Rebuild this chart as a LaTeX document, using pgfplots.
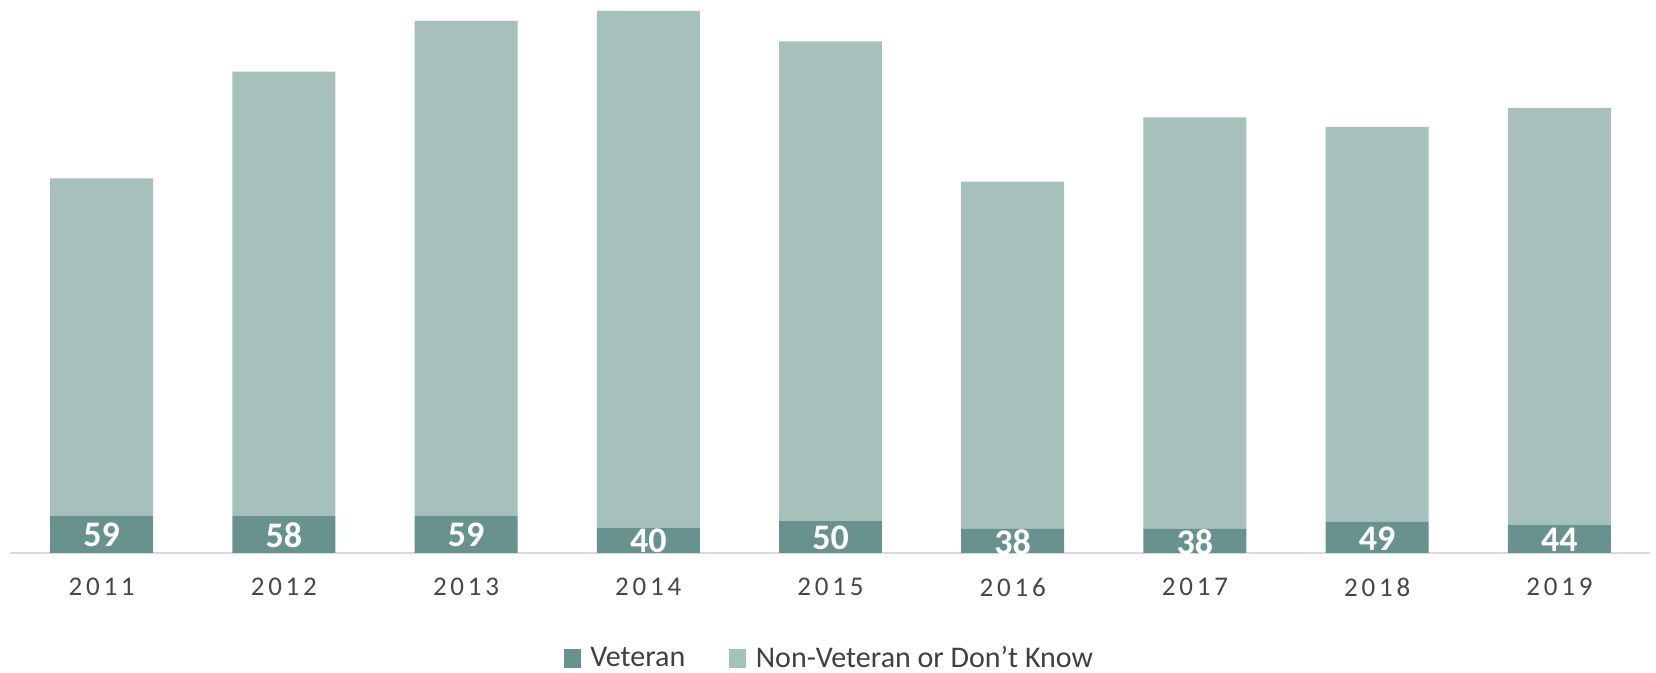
\documentclass[border=0pt]{standalone}
\usepackage{pgfplots}
\pgfplotsset{compat=1.18}
\usepackage{fontspec}
\setmainfont{Carlito}
\definecolor{vet}{RGB}{103,146,141}
\definecolor{nonvet}{RGB}{166,192,188}
\definecolor{axgray}{RGB}{217,217,217}
\definecolor{ticktxt}{RGB}{70,70,70}
\definecolor{legtxt}{RGB}{64,64,64}

\pgfplotsset{
  common/.style={
    at={(5.25pt,60pt)}, anchor=south west,
    width=820pt, height=276.5pt, scale only axis,
    xmin=-0.5, xmax=8.5, ymin=0, ymax=871,
    clip=false,
  }
}

\begin{document}
\begin{tikzpicture}
\path[use as bounding box] (0,0) rectangle (828pt,336.5pt);
\begin{axis}[
    common,
    ybar stacked, bar width=0.565,
    xtick={0,...,8},
    xticklabels={2011,2012,2013,2014,2015,2016,2017,2018,2019},
    axis x line=bottom, axis y line=none,
    x axis line style={axgray, line width=1pt, -},
    major tick length=0pt,
    ytick=\empty,
    xticklabel style={font=\fontsize{13.5}{16}\selectfont\addfontfeatures{LetterSpace=14}, text=ticktxt, yshift=-9pt},
    legend style={at={(0.5,-0.19)}, anchor=center, draw=none, inner ysep=0pt,
        font=\fontsize{15}{17}\selectfont, text=legtxt,
        /tikz/every even column/.append style={column sep=20pt}},
    legend columns=2, legend cell align=left,
    legend image code/.code={\fill[#1] (0pt,-4.75pt) rectangle (8.5pt,4.75pt);
        \path (11.25pt,0pt);},
]
% veteran
\addplot[fill=vet, draw=none]
    coordinates {(0,59) (1,58) (2,59) (3,40) (4,50) (5,38) (6,38) (7,49) (8,44)};
% non-veteran or don't know
\addplot[fill=nonvet, draw=none]
    coordinates {(0,531) (1,700) (2,779) (3,814) (4,756) (5,547) (6,648) (7,622) (8,657)};
\legend{Veteran, Non-Veteran or Don't Know}
\end{axis}
% labels in the middle of the veteran segments
\begin{axis}[common, hide axis]
\addplot[draw=none, mark=none, point meta=explicit symbolic,
    nodes near coords,
    every node near coord/.append style={anchor=center, yshift=-0.5pt,
        text=white, font=\fontsize{18}{20}\selectfont\bfseries}]
    coordinates {(0,29.5)[59] (1,29)[58] (2,29.5)[59] (3,20)[40] (4,25)[50]
                 (5,19)[38] (6,19)[38] (7,24.5)[49] (8,22)[44]};
\end{axis}
\end{tikzpicture}
\end{document}
